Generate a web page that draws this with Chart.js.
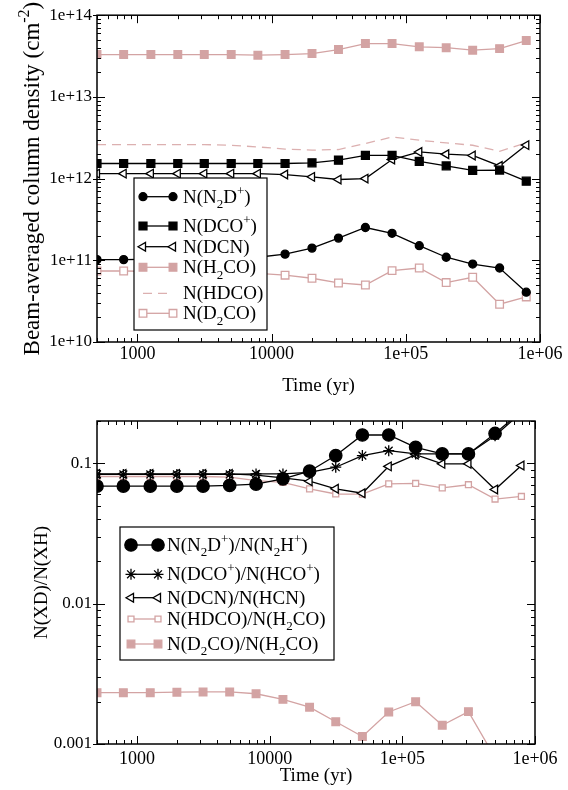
<!DOCTYPE html>
<html>
<head>
<meta charset="utf-8">
<script src="https://cdn.jsdelivr.net/npm/chart.js@4.4.1/dist/chart.umd.min.js"></script>
<style>
  body { margin: 0; background: #fff; }
  canvas { position: absolute; left: 0; }
  #graficoColumnas { top: 0; }
  #graficoCocientes { top: 400px; }
</style>
</head>
<body>
<canvas id="graficoColumnas" width="568" height="400"></canvas>
<canvas id="graficoCocientes" width="568" height="390"></canvas>
<script>
// tiempos del modelo (yr)
const tiempos = [500, 790, 1260, 2000, 3150, 5000, 7900, 12600, 20000, 31500, 50000, 79000, 126000, 200000, 315000, 500000, 790000];

// panel superior: densidades de columna (cm^-2)
const colN2Dp = [1.02e11, 1.02e11, 1.03e11, 1.04e11, 1.05e11, 1.07e11, 1.09e11, 1.19e11, 1.41e11, 1.87e11, 2.52e11, 2.14e11, 1.51e11, 1.09e11, 9.0e10, 8.05e10, 4.07e10];
const colDCOp = [1.53e12, 1.53e12, 1.53e12, 1.53e12, 1.53e12, 1.53e12, 1.53e12, 1.53e12, 1.56e12, 1.68e12, 1.92e12, 1.92e12, 1.62e12, 1.43e12, 1.26e12, 1.27e12, 9.3e11];
const colDCN = [1.15e12, 1.15e12, 1.15e12, 1.15e12, 1.15e12, 1.15e12, 1.15e12, 1.12e12, 1.05e12, 9.75e11, 1.0e12, 1.71e12, 2.12e12, 1.99e12, 1.92e12, 1.43e12, 2.57e12];
const colH2CO = [3.3e13, 3.3e13, 3.3e13, 3.3e13, 3.3e13, 3.3e13, 3.24e13, 3.3e13, 3.39e13, 3.8e13, 4.5e13, 4.5e13, 4.1e13, 4.0e13, 3.73e13, 3.9e13, 4.9e13];
const colHDCO = [2.61e12, 2.61e12, 2.61e12, 2.61e12, 2.61e12, 2.56e12, 2.44e12, 2.3e12, 2.23e12, 2.27e12, 2.68e12, 3.24e12, 2.95e12, 2.73e12, 2.56e12, 2.16e12, 2.73e12];
const colD2CO = [7.4e10, 7.4e10, 7.3e10, 7.2e10, 7.1e10, 7.0e10, 6.9e10, 6.57e10, 6.03e10, 5.28e10, 4.99e10, 7.48e10, 8.05e10, 5.34e10, 6.2e10, 2.9e10, 3.56e10];

// panel inferior: cocientes N(XD)/N(XH)
const razN2D = [0.0687, 0.0687, 0.0687, 0.0687, 0.0687, 0.0695, 0.071, 0.0775, 0.0878, 0.1135, 0.159, 0.159, 0.13, 0.1165, 0.1165, 0.163, 0.235];
const razDCO = [0.0832, 0.0832, 0.0832, 0.0832, 0.0832, 0.0832, 0.084, 0.084, 0.086, 0.0937, 0.1135, 0.123, 0.1165, 0.1165, 0.1165, 0.157, 0.23];
const razDCN = [0.084, 0.084, 0.084, 0.084, 0.084, 0.084, 0.0822, 0.0787, 0.0745, 0.0658, 0.0612, 0.095, 0.1153, 0.099, 0.099, 0.065, 0.0964];
const razHDCO = [0.0805, 0.0805, 0.0805, 0.0805, 0.0805, 0.0796, 0.0753, 0.073, 0.0657, 0.0604, 0.0602, 0.0714, 0.0718, 0.0668, 0.0703, 0.0556, 0.058];
const razD2CO = [0.00232, 0.00232, 0.00232, 0.00234, 0.00235, 0.00235, 0.00228, 0.00208, 0.00183, 0.00144, 0.00113, 0.00169, 0.002, 0.00136, 0.0017, 0.0008, 0.0007];

// marcas y etiquetas de los ejes
const marcasX = [1000, 10000, 1e5, 1e6];
const etiquetasX = ['1000', '10000', '1e+05', '1e+06'];
const marcasYSup = [1e10, 1e11, 1e12, 1e13, 1e14];
const etiquetasYSup = ['1e+10', '1e+11', '1e+12', '1e+13', '1e+14'];
const marcasYInf = [0.001, 0.01, 0.1];
const etiquetasYInf = ['0.001', '0.01', '0.1'];

const leyendaSup = ['N(N_2D^+)', 'N(DCO^+)', 'N(DCN)', 'N(H_2CO)', 'N(HDCO)', 'N(D_2CO)'];
const leyendaInf = ['N(N_2D^+)/N(N_2H^+)', 'N(DCO^+)/N(HCO^+)', 'N(DCN)/N(HCN)', 'N(HDCO)/N(H_2CO)', 'N(D_2CO)/N(H_2CO)'];

const ROSA = '#d3a3a3';
const FUENTE = '"Liberation Serif", "DejaVu Serif", serif';
Chart.defaults.font.family = FUENTE;
Chart.defaults.color = '#000';

function puntos(serie) {
  return tiempos.map((t, i) => ({ x: t, y: serie[i] }));
}

// texto con subindices (_x) y superindices (^x o ^{..})
function trozos(texto) {
  const res = [];
  for (let i = 0; i < texto.length; i++) {
    const c = texto[i];
    if ((c === '_' || c === '^') && i + 1 < texto.length) {
      let s = texto[i + 1];
      if (s === '{') {
        const k = texto.indexOf('}', i + 1);
        s = texto.slice(i + 2, k);
        i = k;
      } else {
        i = i + 1;
      }
      res.push({ t: s, tipo: c === '_' ? 'sub' : 'sup' });
    } else {
      res.push({ t: c, tipo: 'n' });
    }
  }
  return res;
}

function textoRico(ctx, texto, x, y, tam, soloMedir) {
  let cx = x;
  for (const p of trozos(texto)) {
    const t = p.tipo === 'n' ? tam : Math.round(tam * 0.68);
    ctx.font = t + 'px ' + FUENTE;
    const dy = p.tipo === 'sup' ? -tam * 0.42 : (p.tipo === 'sub' ? tam * 0.27 : 0);
    if (!soloMedir) ctx.fillText(p.t, cx, y + dy);
    cx += ctx.measureText(p.t).width;
  }
  return cx - x;
}

function recorrerLog(min, max, fn) {
  const e0 = Math.floor(Math.log10(min));
  const e1 = Math.ceil(Math.log10(max));
  for (let e = e0; e <= e1; e++) {
    for (let k = 1; k < 10; k++) {
      const v = k * Math.pow(10, e);
      if (v >= min * 0.999 && v <= max * 1.001) fn(v, k === 1);
    }
  }
}

// marco y marcas hacia dentro, al estilo xmgrace
const pluginMarco = {
  id: 'marco',
  afterDraw(chart) {
    const { ctx, chartArea: a, scales: { x, y } } = chart;
    ctx.save();
    ctx.strokeStyle = '#000';
    ctx.lineWidth = 1;
    ctx.beginPath();
    recorrerLog(x.min, x.max, (v, mayor) => {
      const px = Math.round(x.getPixelForValue(v)) + 0.5;
      const l = mayor ? 8 : 4;
      ctx.moveTo(px, a.bottom); ctx.lineTo(px, a.bottom - l);
      ctx.moveTo(px, a.top); ctx.lineTo(px, a.top + l);
    });
    recorrerLog(y.min, y.max, (v, mayor) => {
      const py = Math.round(y.getPixelForValue(v)) + 0.5;
      const l = mayor ? 8 : 4;
      ctx.moveTo(a.left - (mayor ? 4 : 0), py); ctx.lineTo(a.left + l, py);
      ctx.moveTo(a.right, py); ctx.lineTo(a.right - l, py);
    });
    ctx.stroke();
    ctx.lineWidth = 1.5;
    ctx.strokeRect(a.left, a.top, a.right - a.left, a.bottom - a.top);
    ctx.restore();
  }
};

// titulo del eje y con superindices, girado
function pluginTituloY(texto, xBase, tam) {
  return {
    id: 'tituloY',
    afterDraw(chart) {
      const { ctx, chartArea: a } = chart;
      ctx.save();
      ctx.fillStyle = '#000';
      ctx.textBaseline = 'alphabetic';
      ctx.textAlign = 'left';
      const ancho = textoRico(ctx, texto, 0, 0, tam, true);
      ctx.translate(xBase, (a.top + a.bottom) / 2);
      ctx.rotate(-Math.PI / 2);
      textoRico(ctx, texto, -ancho / 2, 0, tam, false);
      ctx.restore();
    }
  };
}

// leyenda con caja, como en el original
function pluginLeyenda(etiquetas, caja, filas, muestra, xTexto, tam) {
  return {
    id: 'leyendaPropia',
    afterDraw(chart) {
      const { ctx } = chart;
      ctx.save();
      ctx.fillStyle = '#fff';
      ctx.fillRect(caja.x, caja.y, caja.w, caja.h);
      ctx.strokeStyle = '#000';
      ctx.lineWidth = 1.2;
      ctx.strokeRect(caja.x, caja.y, caja.w, caja.h);
      chart.data.datasets.forEach((ds, i) => {
        const yf = filas[i];
        ctx.save();
        ctx.strokeStyle = ds.borderColor;
        ctx.lineWidth = ds.borderWidth;
        ctx.setLineDash(ds.borderDash || []);
        ctx.beginPath();
        ctx.moveTo(muestra[0], yf);
        ctx.lineTo(muestra[1], yf);
        ctx.stroke();
        ctx.setLineDash([]);
        if (ds.pointRadius > 0) {
          ctx.fillStyle = ds.pointBackgroundColor;
          ctx.strokeStyle = ds.pointBorderColor;
          ctx.lineWidth = ds.pointBorderWidth;
          const opc = { pointStyle: ds.pointStyle, radius: ds.pointRadius, rotation: ds.pointRotation || 0, borderWidth: ds.pointBorderWidth };
          Chart.helpers.drawPoint(ctx, opc, muestra[0], yf);
          Chart.helpers.drawPoint(ctx, opc, muestra[1], yf);
        }
        ctx.restore();
        ctx.fillStyle = '#000';
        ctx.textBaseline = 'alphabetic';
        ctx.textAlign = 'left';
        textoRico(ctx, etiquetas[i], xTexto, yf + tam * 0.32, tam, false);
      });
      ctx.restore();
    }
  };
}

function serie(datos, color, estilo, radio, relleno, extra) {
  return Object.assign({
    data: puntos(datos),
    borderColor: color,
    borderWidth: 1.3,
    pointStyle: estilo,
    pointRadius: radio,
    pointHoverRadius: radio,
    pointBackgroundColor: relleno,
    pointBorderColor: color,
    pointBorderWidth: 1.3,
    tension: 0
  }, extra || {});
}

function ejes(marcasY, etiquetasY, minY, maxY, altoX, sepX) {
  return {
    x: {
      type: 'logarithmic', min: 500, max: 1e6,
      grid: { display: false, drawTicks: false },
      border: { display: false },
      afterBuildTicks: (s) => { s.ticks = marcasX.map(v => ({ value: v })); },
      ticks: {
        autoSkip: false, maxRotation: 0, padding: sepX,
        font: { size: 18 },
        callback: (v) => etiquetasX[marcasX.indexOf(v)]
      },
      title: { display: true, text: 'Time (yr)', font: { size: 19 }, padding: { top: 0, bottom: 3 } },
      afterFit: (s) => { s.height = altoX; }
    },
    y: {
      type: 'logarithmic', min: minY, max: maxY,
      grid: { display: false, drawTicks: false },
      border: { display: false },
      afterBuildTicks: (s) => { s.ticks = marcasY.map(v => ({ value: v })); },
      ticks: {
        autoSkip: false, padding: 5,
        font: { size: 17 },
        callback: (v) => etiquetasY[marcasY.indexOf(v)]
      },
      afterFit: (s) => { s.width = 97; }
    }
  };
}

new Chart(document.getElementById('graficoColumnas'), {
  type: 'line',
  data: {
    datasets: [
      serie(colN2Dp, '#000', 'circle', 4, '#000'),
      serie(colDCOp, '#000', 'rect', 5.6, '#000'),
      serie(colDCN, '#000', 'triangle', 5, '#fff', { pointRotation: -90 }),
      serie(colH2CO, ROSA, 'rect', 5.4, ROSA),
      serie(colHDCO, '#dcb0b0', 'circle', 0, ROSA, { borderDash: [9, 6] }),
      serie(colD2CO, ROSA, 'rect', 5.4, '#fff')
    ]
  },
  options: {
    responsive: false,
    animation: false,
    layout: { padding: { left: 0, right: 28, top: 15, bottom: 0 } },
    plugins: { legend: { display: false }, tooltip: { enabled: false } },
    scales: ejes(marcasYSup, etiquetasYSup, 1e10, 1e14, 58, 1)
  },
  plugins: [
    pluginMarco,
    pluginTituloY('Beam-averaged column density (cm^{-2})', 39, 23),
    pluginLeyenda(leyendaSup, { x: 134, y: 178, w: 133, h: 152 },
      [196.7, 226, 246.7, 267.3, 293.3, 313.3], [143, 173], 183, 19)
  ]
});

new Chart(document.getElementById('graficoCocientes'), {
  type: 'line',
  data: {
    datasets: [
      serie(razN2D, '#000', 'circle', 6.2, '#000'),
      serie(razDCO, '#000', 'star', 5.5, '#000'),
      serie(razDCN, '#000', 'triangle', 5, '#fff', { pointRotation: -90 }),
      serie(razHDCO, ROSA, 'rect', 4.2, '#fff'),
      serie(razD2CO, ROSA, 'rect', 5.4, ROSA)
    ]
  },
  options: {
    responsive: false,
    animation: false,
    layout: { padding: { left: 0, right: 33, top: 21, bottom: 0 } },
    plugins: { legend: { display: false }, tooltip: { enabled: false } },
    scales: ejes(marcasYInf, etiquetasYInf, 0.001, 0.2, 46, 4)
  },
  plugins: [
    pluginMarco,
    pluginTituloY('N(XD)/N(XH)', 47, 19),
    pluginLeyenda(leyendaInf, { x: 120, y: 127, w: 214, h: 133 },
      [145, 174.3, 197.7, 219, 244], [131, 158], 167, 19)
  ]
});
</script>
</body>
</html>
